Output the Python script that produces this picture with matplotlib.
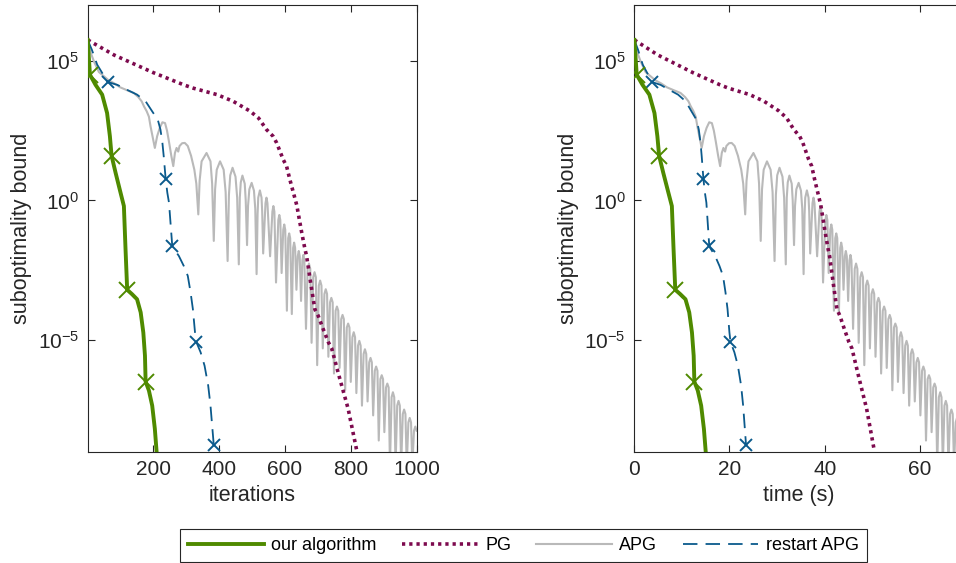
import numpy as np
import matplotlib
matplotlib.use("Agg")
import matplotlib.pyplot as plt
from matplotlib.ticker import FixedLocator, NullLocator, FixedFormatter

# --- data (iterations, log10 of suboptimality bound) ---
ours_it = [1, 8, 25, 45, 60, 68.5, 73.6, 85.8, 101, 111, 116, 121, 136, 151, 162, 170, 175, 177, 187,
           197, 205, 210]
ours_log = [5.75, 4.5, 4.14, 3.79, 3.13, 2.3, 1.6, 0.99, 0.27, -0.2, -1.75, -3.2, -3.36, -3.54, -4.01,
            -4.73, -5.56, -6.49, -6.81, -7.35, -8.18, -8.95]
ours_marks = [1, 6, 11, 17]

pg_it = [1, 81, 200, 293, 322, 394, 443, 494, 520, 544, 564, 575, 595, 605, 615, 636, 651, 661, 666,
         678, 691, 701, 716, 732, 742, 767, 792, 818]
pg_log = [5.75, 5.21, 4.58, 4.14, 4.02, 3.79, 3.55, 3.2, 2.95, 2.54, 2.3, 2.06, 1.46, 1.23, 0.75, -0.17,
          -1.15, -1.75, -2.0, -2.94, -3.9, -4.13, -4.6, -5.08, -5.3, -6.4, -7.46, -8.95]

apg_it = [1, 10, 20, 35, 50, 65, 81, 100, 120, 141, 155, 165, 172, 180, 187, 192, 198,
          205, 212, 220, 228, 236, 242, 248, 255, 261, 266, 271, 276, 280, 288, 296, 305, 315, 325, 331,
          337, 341, 347, 362, 374, 379,
          384, 388, 393, 403, 414, 420,
          426, 430, 434, 441, 450, 455,
          460, 463, 466, 471, 478, 481,
          485, 488, 492, 499, 506, 510,
          514, 517, 519, 524, 529, 531,
          534, 541, 544, 547, 555, 562, 565, 568, 573, 580, 583, 586, 590, 595, 598, 601,
          606, 610, 613, 616, 621, 625, 628, 631, 635, 639, 642, 645, 649, 653, 656, 659,
          664, 669, 673, 677, 681, 686, 690, 694, 698, 703, 707, 711, 715, 720, 724, 728,
          732, 737, 741, 745, 749, 754, 758, 762, 766, 771, 775, 779, 783, 788, 792, 796,
          800, 805, 809, 813, 817, 822, 826, 830, 834, 839, 843, 847, 851, 856, 860, 864,
          868, 873, 877, 881, 885, 890, 894, 898, 902, 907, 911, 915, 919, 924, 928, 932,
          936, 941, 945, 949, 953, 958, 962, 966, 970, 975, 979, 983, 987, 992, 996, 1000]
apg_log = [5.75, 5.3, 4.98, 4.6, 4.45, 4.3, 4.2, 4.05, 3.95, 3.85, 3.7, 3.55, 3.37, 3.2, 3.0, 2.65, 2.3,
           1.88, 2.3, 2.6, 2.8, 2.77, 2.5, 2.1, 1.6, 1.23, 1.7, 1.88, 1.75, 1.95, 2.05, 2.06, 1.95, 1.6,
           1.1, 0.6,
           -0.5, 0.7, 1.4, 1.7, 1.4, 0.6,
           -1.45, 0.4, 1.1, 1.4, 1.1, 0.3,
           -2.17, 0.2, 0.9, 1.17, 0.85, 0.1,
           -2.29, 0.1, 0.65, 0.89, 0.6, 0.0,
           -1.6, -0.2, 0.4, 0.63, 0.35, -0.3,
           -2.64, -0.5, 0.1, 0.36, 0.1, -0.4,
           -1.9, -0.1, 0.1, -0.1, -2.0, -0.4, -0.2, -0.4, -2.94, -0.7, -0.52, -0.7, -2.6, -1.05, -0.86, -1.05,
           -3.95, -1.35, -1.18, -1.35, -4.07, -1.7, -1.51, -1.7, -3.2, -2.0, -1.81, -2.0, -3.6, -2.15, -1.95,
           -2.15,
           -4.6, -2.45, -2.26, -2.45, -5.1, -2.75, -2.57, -2.75, -5.9, -3.05, -2.87, -3.05, -5.3, -3.35,
           -3.18, -3.35,
           -5.6, -3.65, -3.49, -3.65, -6.2, -3.95, -3.8, -3.95, -6.0, -4.25, -4.1, -4.25, -6.8, -4.55, -4.41,
           -4.55,
           -6.5, -4.9, -4.72, -4.9, -6.9, -5.2, -5.03, -5.2, -7.35, -5.5, -5.33, -5.5, -7.2, -5.8, -5.64,
           -5.8,
           -7.7, -6.1, -5.95, -6.1, -8.6, -6.4, -6.26, -6.4, -8.3, -6.7, -6.56, -6.7, -9.5, -7.05, -6.87,
           -7.05,
           -9.5, -7.35, -7.18, -7.35, -9.5, -7.65, -7.49, -7.65, -9.5, -7.95, -7.79, -7.95, -9.5, -8.25,
           -8.1, -8.25]

restart_it = [1, 14, 30, 62, 91, 121, 151, 177, 197, 214, 222, 228, 232, 238, 243, 248, 258, 278, 293,
              305, 313.6, 320.5, 327, 330.6, 344, 356, 367, 374, 379, 384]
restart_log = [5.75, 5.39, 4.86, 4.24, 4.14, 3.96, 3.79, 3.55, 3.19, 2.89, 2.54, 2.06, 1.58, 0.75, 0.27,
               -0.08, -1.65, -1.99, -2.35, -2.7, -3.3, -3.89, -4.73, -5.06, -5.44, -5.92, -6.63, -7.35,
               -8.06, -8.77]
restart_marks = [3, 13, 16, 23, 29]

# seconds per iteration for each method
sec_per_it = {"ours": 0.0715, "pg": 0.0616, "apg": 0.0692, "restart": 0.0612}

c_green = "#4f8a00"
c_pg = "#7d0a4e"
c_apg = "#b9b9b9"
c_blue = "#0b5a8c"
c_txt = "#262626"

plt.rcParams["font.family"] = ["Liberation Sans", "DejaVu Sans"]
plt.rcParams["mathtext.default"] = "regular"
plt.rcParams["font.size"] = 15

fig = plt.figure(figsize=(9.56, 5.63), dpi=100)
ax1 = fig.add_axes([0.0917, 0.1977, 0.3441, 0.7934])
ax2 = fig.add_axes([0.6632, 0.1977, 0.3441, 0.7934])


def draw(ax, key_scale):
    def xs(it, key):
        a = np.array(it, dtype=float)
        return a * sec_per_it[key] if key_scale else a

    l_apg, = ax.plot(xs(apg_it, "apg"), 10.0 ** np.array(apg_log), color=c_apg, lw=1.5, zorder=2)
    l_pg, = ax.plot(xs(pg_it, "pg"), 10.0 ** np.array(pg_log), color=c_pg, lw=2.6,
                    linestyle=(0, (0.9, 1.1)), zorder=3)
    l_rs, = ax.plot(xs(restart_it, "restart"), 10.0 ** np.array(restart_log), color=c_blue, lw=1.3,
                    linestyle=(0, (8, 4.5)), zorder=4)
    ax.plot(xs(restart_it, "restart")[restart_marks], 10.0 ** np.array(restart_log)[restart_marks],
            ls="none", marker="x", ms=8, mew=1.4, color=c_blue, zorder=4)
    l_gr, = ax.plot(xs(ours_it, "ours"), 10.0 ** np.array(ours_log), color=c_green, lw=2.8, zorder=5,
                    solid_joinstyle="round")
    ax.plot(xs(ours_it, "ours")[ours_marks], 10.0 ** np.array(ours_log)[ours_marks],
            ls="none", marker="x", ms=11, mew=1.4, color=c_green, zorder=5)

    ax.set_yscale("log")
    ax.set_ylim(1e-9, 1e7)
    ax.yaxis.set_major_locator(FixedLocator([1e-5, 1e0, 1e5]))
    ax.yaxis.set_major_formatter(FixedFormatter(["$10^{-5}$", "$10^{0}$", "$10^{5}$"]))
    ax.yaxis.set_minor_locator(NullLocator())
    ax.tick_params(which="both", direction="in", top=True, right=True, length=5, width=0.8,
                   colors=c_txt, labelsize=15, pad=6)
    for s in ax.spines.values():
        s.set_color(c_txt)
        s.set_linewidth(0.8)
    ax.set_ylabel("suboptimality bound", color=c_txt, fontsize=15.5)
    return l_gr, l_pg, l_apg, l_rs


handles = draw(ax1, False)
ax1.set_xlim(1, 1000)
ax1.set_xticks([200, 400, 600, 800, 1000])
ax1.set_xlabel("iterations", color=c_txt, fontsize=15.5)

draw(ax2, True)
ax2.set_xlim(0, 69)
ax2.set_xticks([0, 20, 40, 60])
ax2.set_xlabel("time (s)", color=c_txt, fontsize=15.5)

leg = fig.legend(handles, ["our algorithm", "PG", "APG", "restart APG"], ncol=4, loc="center",
                 bbox_to_anchor=(523.5 / 956, 1 - 545.5 / 563), fontsize=13, frameon=True,
                 fancybox=False, edgecolor=c_txt, framealpha=1, handlelength=4.2, columnspacing=1.4,
                 handletextpad=0.4, borderpad=0.45)
leg.get_frame().set_linewidth(0.8)

fig.savefig("out.png", dpi=100)
